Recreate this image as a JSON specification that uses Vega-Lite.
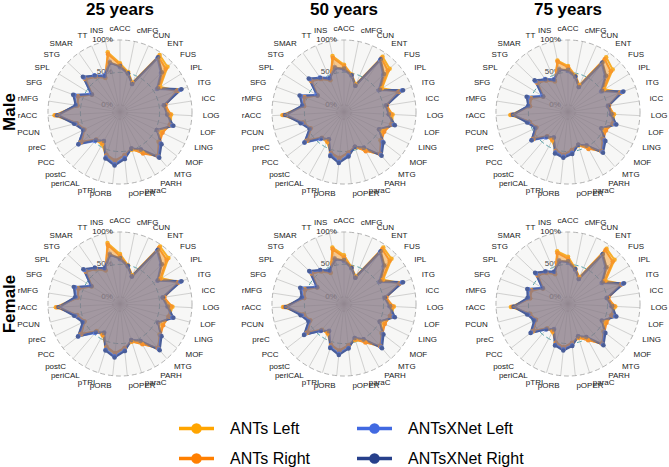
{
"$schema": "https://vega.github.io/schema/vega-lite/v6.json",
"padding": {"left": 0, "top": 1, "right": 0, "bottom": 0},
"background": "white",
"bounds": "flush",
"data": {"values": [
{"sex":"Male","age":"25 years","i":0,"r":"cACC","AL":0.64,"AR":0.62,"XL":0.58,"XR":0.60},
{"sex":"Male","age":"25 years","i":1,"r":"cMFG","AL":0.52,"AR":0.50,"XL":0.49,"XR":0.50},
{"sex":"Male","age":"25 years","i":2,"r":"CUN","AL":0.38,"AR":0.37,"XL":0.36,"XR":0.36},
{"sex":"Male","age":"25 years","i":3,"r":"ENT","AL":0.96,"AR":0.93,"XL":0.90,"XR":0.92},
{"sex":"Male","age":"25 years","i":4,"r":"FUS","AL":0.90,"AR":0.86,"XL":0.76,"XR":0.78},
{"sex":"Male","age":"25 years","i":5,"r":"IPL","AL":0.62,"AR":0.60,"XL":0.56,"XR":0.58},
{"sex":"Male","age":"25 years","i":6,"r":"ITG","AL":0.84,"AR":0.82,"XL":0.88,"XR":0.90},
{"sex":"Male","age":"25 years","i":7,"r":"iCC","AL":0.58,"AR":0.60,"XL":0.57,"XR":0.58},
{"sex":"Male","age":"25 years","i":8,"r":"LOG","AL":0.68,"AR":0.66,"XL":0.62,"XR":0.62},
{"sex":"Male","age":"25 years","i":9,"r":"LOF","AL":0.70,"AR":0.68,"XL":0.72,"XR":0.74},
{"sex":"Male","age":"25 years","i":10,"r":"LING","AL":0.60,"AR":0.62,"XL":0.54,"XR":0.52},
{"sex":"Male","age":"25 years","i":11,"r":"MOF","AL":0.64,"AR":0.66,"XL":0.68,"XR":0.70},
{"sex":"Male","age":"25 years","i":12,"r":"MTG","AL":0.80,"AR":0.78,"XL":0.80,"XR":0.82},
{"sex":"Male","age":"25 years","i":13,"r":"PARH","AL":0.60,"AR":0.62,"XL":0.55,"XR":0.55},
{"sex":"Male","age":"25 years","i":14,"r":"paraC","AL":0.50,"AR":0.48,"XL":0.48,"XR":0.48},
{"sex":"Male","age":"25 years","i":15,"r":"pOPER","AL":0.56,"AR":0.56,"XL":0.60,"XR":0.62},
{"sex":"Male","age":"25 years","i":16,"r":"pORB","AL":0.66,"AR":0.64,"XL":0.70,"XR":0.72},
{"sex":"Male","age":"25 years","i":17,"r":"pTRI","AL":0.60,"AR":0.58,"XL":0.62,"XR":0.64},
{"sex":"Male","age":"25 years","i":18,"r":"periCAL","AL":0.46,"AR":0.44,"XL":0.40,"XR":0.40},
{"sex":"Male","age":"25 years","i":19,"r":"postC","AL":0.46,"AR":0.45,"XL":0.48,"XR":0.46},
{"sex":"Male","age":"25 years","i":20,"r":"PCC","AL":0.66,"AR":0.64,"XL":0.70,"XR":0.70},
{"sex":"Male","age":"25 years","i":21,"r":"preC","AL":0.52,"AR":0.50,"XL":0.52,"XR":0.52},
{"sex":"Male","age":"25 years","i":22,"r":"PCUN","AL":0.58,"AR":0.58,"XL":0.60,"XR":0.62},
{"sex":"Male","age":"25 years","i":23,"r":"rACC","AL":0.90,"AR":0.88,"XL":0.84,"XR":0.86},
{"sex":"Male","age":"25 years","i":24,"r":"rMFG","AL":0.56,"AR":0.55,"XL":0.58,"XR":0.58},
{"sex":"Male","age":"25 years","i":25,"r":"SFG","AL":0.58,"AR":0.58,"XL":0.64,"XR":0.66},
{"sex":"Male","age":"25 years","i":26,"r":"SPL","AL":0.40,"AR":0.40,"XL":0.42,"XR":0.40},
{"sex":"Male","age":"25 years","i":27,"r":"STG","AL":0.64,"AR":0.62,"XL":0.66,"XR":0.68},
{"sex":"Male","age":"25 years","i":28,"r":"SMAR","AL":0.55,"AR":0.55,"XL":0.58,"XR":0.57},
{"sex":"Male","age":"25 years","i":29,"r":"TT","AL":0.46,"AR":0.47,"XL":0.50,"XR":0.49},
{"sex":"Male","age":"25 years","i":30,"r":"INS","AL":0.83,"AR":0.80,"XL":0.68,"XR":0.66},
{"sex":"Male","age":"50 years","i":0,"r":"cACC","AL":0.62,"AR":0.60,"XL":0.54,"XR":0.56},
{"sex":"Male","age":"50 years","i":1,"r":"cMFG","AL":0.48,"AR":0.47,"XL":0.46,"XR":0.47},
{"sex":"Male","age":"50 years","i":2,"r":"CUN","AL":0.35,"AR":0.34,"XL":0.33,"XR":0.33},
{"sex":"Male","age":"50 years","i":3,"r":"ENT","AL":0.93,"AR":0.90,"XL":0.86,"XR":0.88},
{"sex":"Male","age":"50 years","i":4,"r":"FUS","AL":0.86,"AR":0.82,"XL":0.72,"XR":0.74},
{"sex":"Male","age":"50 years","i":5,"r":"IPL","AL":0.58,"AR":0.56,"XL":0.52,"XR":0.54},
{"sex":"Male","age":"50 years","i":6,"r":"ITG","AL":0.80,"AR":0.78,"XL":0.84,"XR":0.86},
{"sex":"Male","age":"50 years","i":7,"r":"iCC","AL":0.55,"AR":0.56,"XL":0.54,"XR":0.55},
{"sex":"Male","age":"50 years","i":8,"r":"LOG","AL":0.64,"AR":0.62,"XL":0.58,"XR":0.58},
{"sex":"Male","age":"50 years","i":9,"r":"LOF","AL":0.66,"AR":0.64,"XL":0.68,"XR":0.70},
{"sex":"Male","age":"50 years","i":10,"r":"LING","AL":0.56,"AR":0.58,"XL":0.50,"XR":0.49},
{"sex":"Male","age":"50 years","i":11,"r":"MOF","AL":0.60,"AR":0.62,"XL":0.64,"XR":0.66},
{"sex":"Male","age":"50 years","i":12,"r":"MTG","AL":0.76,"AR":0.74,"XL":0.76,"XR":0.78},
{"sex":"Male","age":"50 years","i":13,"r":"PARH","AL":0.56,"AR":0.58,"XL":0.52,"XR":0.52},
{"sex":"Male","age":"50 years","i":14,"r":"paraC","AL":0.46,"AR":0.45,"XL":0.45,"XR":0.45},
{"sex":"Male","age":"50 years","i":15,"r":"pOPER","AL":0.52,"AR":0.52,"XL":0.56,"XR":0.58},
{"sex":"Male","age":"50 years","i":16,"r":"pORB","AL":0.62,"AR":0.60,"XL":0.66,"XR":0.68},
{"sex":"Male","age":"50 years","i":17,"r":"pTRI","AL":0.56,"AR":0.55,"XL":0.58,"XR":0.60},
{"sex":"Male","age":"50 years","i":18,"r":"periCAL","AL":0.42,"AR":0.41,"XL":0.37,"XR":0.37},
{"sex":"Male","age":"50 years","i":19,"r":"postC","AL":0.42,"AR":0.41,"XL":0.44,"XR":0.42},
{"sex":"Male","age":"50 years","i":20,"r":"PCC","AL":0.62,"AR":0.60,"XL":0.66,"XR":0.66},
{"sex":"Male","age":"50 years","i":21,"r":"preC","AL":0.48,"AR":0.46,"XL":0.48,"XR":0.48},
{"sex":"Male","age":"50 years","i":22,"r":"PCUN","AL":0.54,"AR":0.54,"XL":0.56,"XR":0.58},
{"sex":"Male","age":"50 years","i":23,"r":"rACC","AL":0.84,"AR":0.82,"XL":0.78,"XR":0.80},
{"sex":"Male","age":"50 years","i":24,"r":"rMFG","AL":0.52,"AR":0.51,"XL":0.54,"XR":0.54},
{"sex":"Male","age":"50 years","i":25,"r":"SFG","AL":0.54,"AR":0.54,"XL":0.60,"XR":0.62},
{"sex":"Male","age":"50 years","i":26,"r":"SPL","AL":0.37,"AR":0.37,"XL":0.39,"XR":0.37},
{"sex":"Male","age":"50 years","i":27,"r":"STG","AL":0.60,"AR":0.58,"XL":0.62,"XR":0.64},
{"sex":"Male","age":"50 years","i":28,"r":"SMAR","AL":0.51,"AR":0.51,"XL":0.54,"XR":0.53},
{"sex":"Male","age":"50 years","i":29,"r":"TT","AL":0.42,"AR":0.43,"XL":0.46,"XR":0.45},
{"sex":"Male","age":"50 years","i":30,"r":"INS","AL":0.77,"AR":0.74,"XL":0.60,"XR":0.58},
{"sex":"Male","age":"75 years","i":0,"r":"cACC","AL":0.60,"AR":0.58,"XL":0.52,"XR":0.54},
{"sex":"Male","age":"75 years","i":1,"r":"cMFG","AL":0.46,"AR":0.45,"XL":0.44,"XR":0.45},
{"sex":"Male","age":"75 years","i":2,"r":"CUN","AL":0.34,"AR":0.33,"XL":0.31,"XR":0.31},
{"sex":"Male","age":"75 years","i":3,"r":"ENT","AL":0.92,"AR":0.88,"XL":0.80,"XR":0.82},
{"sex":"Male","age":"75 years","i":4,"r":"FUS","AL":0.84,"AR":0.80,"XL":0.68,"XR":0.70},
{"sex":"Male","age":"75 years","i":5,"r":"IPL","AL":0.55,"AR":0.53,"XL":0.49,"XR":0.51},
{"sex":"Male","age":"75 years","i":6,"r":"ITG","AL":0.76,"AR":0.74,"XL":0.78,"XR":0.80},
{"sex":"Male","age":"75 years","i":7,"r":"iCC","AL":0.52,"AR":0.53,"XL":0.51,"XR":0.52},
{"sex":"Male","age":"75 years","i":8,"r":"LOG","AL":0.60,"AR":0.58,"XL":0.55,"XR":0.56},
{"sex":"Male","age":"75 years","i":9,"r":"LOF","AL":0.62,"AR":0.60,"XL":0.64,"XR":0.66},
{"sex":"Male","age":"75 years","i":10,"r":"LING","AL":0.52,"AR":0.54,"XL":0.47,"XR":0.46},
{"sex":"Male","age":"75 years","i":11,"r":"MOF","AL":0.56,"AR":0.58,"XL":0.60,"XR":0.62},
{"sex":"Male","age":"75 years","i":12,"r":"MTG","AL":0.70,"AR":0.68,"XL":0.70,"XR":0.72},
{"sex":"Male","age":"75 years","i":13,"r":"PARH","AL":0.52,"AR":0.54,"XL":0.48,"XR":0.48},
{"sex":"Male","age":"75 years","i":14,"r":"paraC","AL":0.43,"AR":0.42,"XL":0.42,"XR":0.42},
{"sex":"Male","age":"75 years","i":15,"r":"pOPER","AL":0.48,"AR":0.48,"XL":0.52,"XR":0.54},
{"sex":"Male","age":"75 years","i":16,"r":"pORB","AL":0.56,"AR":0.55,"XL":0.58,"XR":0.60},
{"sex":"Male","age":"75 years","i":17,"r":"pTRI","AL":0.52,"AR":0.51,"XL":0.54,"XR":0.56},
{"sex":"Male","age":"75 years","i":18,"r":"periCAL","AL":0.39,"AR":0.38,"XL":0.34,"XR":0.34},
{"sex":"Male","age":"75 years","i":19,"r":"postC","AL":0.39,"AR":0.38,"XL":0.41,"XR":0.39},
{"sex":"Male","age":"75 years","i":20,"r":"PCC","AL":0.58,"AR":0.56,"XL":0.60,"XR":0.60},
{"sex":"Male","age":"75 years","i":21,"r":"preC","AL":0.45,"AR":0.43,"XL":0.45,"XR":0.45},
{"sex":"Male","age":"75 years","i":22,"r":"PCUN","AL":0.50,"AR":0.50,"XL":0.52,"XR":0.54},
{"sex":"Male","age":"75 years","i":23,"r":"rACC","AL":0.78,"AR":0.76,"XL":0.73,"XR":0.74},
{"sex":"Male","age":"75 years","i":24,"r":"rMFG","AL":0.49,"AR":0.48,"XL":0.51,"XR":0.51},
{"sex":"Male","age":"75 years","i":25,"r":"SFG","AL":0.50,"AR":0.50,"XL":0.55,"XR":0.57},
{"sex":"Male","age":"75 years","i":26,"r":"SPL","AL":0.34,"AR":0.34,"XL":0.36,"XR":0.34},
{"sex":"Male","age":"75 years","i":27,"r":"STG","AL":0.56,"AR":0.54,"XL":0.58,"XR":0.60},
{"sex":"Male","age":"75 years","i":28,"r":"SMAR","AL":0.48,"AR":0.48,"XL":0.51,"XR":0.50},
{"sex":"Male","age":"75 years","i":29,"r":"TT","AL":0.40,"AR":0.41,"XL":0.44,"XR":0.43},
{"sex":"Male","age":"75 years","i":30,"r":"INS","AL":0.70,"AR":0.68,"XL":0.57,"XR":0.55},
{"sex":"Female","age":"25 years","i":0,"r":"cACC","AL":0.66,"AR":0.63,"XL":0.58,"XR":0.60},
{"sex":"Female","age":"25 years","i":1,"r":"cMFG","AL":0.50,"AR":0.49,"XL":0.48,"XR":0.49},
{"sex":"Female","age":"25 years","i":2,"r":"CUN","AL":0.37,"AR":0.36,"XL":0.35,"XR":0.35},
{"sex":"Female","age":"25 years","i":3,"r":"ENT","AL":0.97,"AR":0.94,"XL":0.89,"XR":0.91},
{"sex":"Female","age":"25 years","i":4,"r":"FUS","AL":0.92,"AR":0.88,"XL":0.76,"XR":0.78},
{"sex":"Female","age":"25 years","i":5,"r":"IPL","AL":0.64,"AR":0.62,"XL":0.57,"XR":0.58},
{"sex":"Female","age":"25 years","i":6,"r":"ITG","AL":0.86,"AR":0.84,"XL":0.88,"XR":0.90},
{"sex":"Female","age":"25 years","i":7,"r":"iCC","AL":0.56,"AR":0.58,"XL":0.55,"XR":0.56},
{"sex":"Female","age":"25 years","i":8,"r":"LOG","AL":0.70,"AR":0.68,"XL":0.62,"XR":0.63},
{"sex":"Female","age":"25 years","i":9,"r":"LOF","AL":0.68,"AR":0.66,"XL":0.72,"XR":0.74},
{"sex":"Female","age":"25 years","i":10,"r":"LING","AL":0.62,"AR":0.63,"XL":0.55,"XR":0.54},
{"sex":"Female","age":"25 years","i":11,"r":"MOF","AL":0.66,"AR":0.68,"XL":0.68,"XR":0.70},
{"sex":"Female","age":"25 years","i":12,"r":"MTG","AL":0.80,"AR":0.78,"XL":0.81,"XR":0.83},
{"sex":"Female","age":"25 years","i":13,"r":"PARH","AL":0.58,"AR":0.60,"XL":0.54,"XR":0.54},
{"sex":"Female","age":"25 years","i":14,"r":"paraC","AL":0.50,"AR":0.49,"XL":0.47,"XR":0.47},
{"sex":"Female","age":"25 years","i":15,"r":"pOPER","AL":0.58,"AR":0.57,"XL":0.61,"XR":0.62},
{"sex":"Female","age":"25 years","i":16,"r":"pORB","AL":0.66,"AR":0.65,"XL":0.70,"XR":0.72},
{"sex":"Female","age":"25 years","i":17,"r":"pTRI","AL":0.60,"AR":0.58,"XL":0.63,"XR":0.64},
{"sex":"Female","age":"25 years","i":18,"r":"periCAL","AL":0.44,"AR":0.43,"XL":0.39,"XR":0.40},
{"sex":"Female","age":"25 years","i":19,"r":"postC","AL":0.44,"AR":0.45,"XL":0.48,"XR":0.46},
{"sex":"Female","age":"25 years","i":20,"r":"PCC","AL":0.66,"AR":0.64,"XL":0.70,"XR":0.71},
{"sex":"Female","age":"25 years","i":21,"r":"preC","AL":0.50,"AR":0.50,"XL":0.52,"XR":0.53},
{"sex":"Female","age":"25 years","i":22,"r":"PCUN","AL":0.57,"AR":0.58,"XL":0.60,"XR":0.62},
{"sex":"Female","age":"25 years","i":23,"r":"rACC","AL":0.88,"AR":0.86,"XL":0.82,"XR":0.84},
{"sex":"Female","age":"25 years","i":24,"r":"rMFG","AL":0.55,"AR":0.55,"XL":0.58,"XR":0.59},
{"sex":"Female","age":"25 years","i":25,"r":"SFG","AL":0.58,"AR":0.57,"XL":0.63,"XR":0.65},
{"sex":"Female","age":"25 years","i":26,"r":"SPL","AL":0.40,"AR":0.41,"XL":0.42,"XR":0.41},
{"sex":"Female","age":"25 years","i":27,"r":"STG","AL":0.62,"AR":0.61,"XL":0.65,"XR":0.67},
{"sex":"Female","age":"25 years","i":28,"r":"SMAR","AL":0.54,"AR":0.55,"XL":0.57,"XR":0.57},
{"sex":"Female","age":"25 years","i":29,"r":"TT","AL":0.45,"AR":0.46,"XL":0.49,"XR":0.49},
{"sex":"Female","age":"25 years","i":30,"r":"INS","AL":0.85,"AR":0.82,"XL":0.68,"XR":0.66},
{"sex":"Female","age":"50 years","i":0,"r":"cACC","AL":0.64,"AR":0.61,"XL":0.55,"XR":0.57},
{"sex":"Female","age":"50 years","i":1,"r":"cMFG","AL":0.47,"AR":0.46,"XL":0.45,"XR":0.46},
{"sex":"Female","age":"50 years","i":2,"r":"CUN","AL":0.35,"AR":0.34,"XL":0.33,"XR":0.33},
{"sex":"Female","age":"50 years","i":3,"r":"ENT","AL":0.95,"AR":0.92,"XL":0.86,"XR":0.88},
{"sex":"Female","age":"50 years","i":4,"r":"FUS","AL":0.90,"AR":0.86,"XL":0.73,"XR":0.75},
{"sex":"Female","age":"50 years","i":5,"r":"IPL","AL":0.60,"AR":0.58,"XL":0.53,"XR":0.55},
{"sex":"Female","age":"50 years","i":6,"r":"ITG","AL":0.82,"AR":0.80,"XL":0.84,"XR":0.86},
{"sex":"Female","age":"50 years","i":7,"r":"iCC","AL":0.53,"AR":0.55,"XL":0.52,"XR":0.53},
{"sex":"Female","age":"50 years","i":8,"r":"LOG","AL":0.66,"AR":0.64,"XL":0.59,"XR":0.60},
{"sex":"Female","age":"50 years","i":9,"r":"LOF","AL":0.64,"AR":0.62,"XL":0.68,"XR":0.70},
{"sex":"Female","age":"50 years","i":10,"r":"LING","AL":0.58,"AR":0.59,"XL":0.51,"XR":0.50},
{"sex":"Female","age":"50 years","i":11,"r":"MOF","AL":0.62,"AR":0.64,"XL":0.64,"XR":0.66},
{"sex":"Female","age":"50 years","i":12,"r":"MTG","AL":0.76,"AR":0.74,"XL":0.77,"XR":0.79},
{"sex":"Female","age":"50 years","i":13,"r":"PARH","AL":0.55,"AR":0.57,"XL":0.51,"XR":0.51},
{"sex":"Female","age":"50 years","i":14,"r":"paraC","AL":0.47,"AR":0.46,"XL":0.44,"XR":0.44},
{"sex":"Female","age":"50 years","i":15,"r":"pOPER","AL":0.54,"AR":0.53,"XL":0.57,"XR":0.58},
{"sex":"Female","age":"50 years","i":16,"r":"pORB","AL":0.62,"AR":0.61,"XL":0.66,"XR":0.68},
{"sex":"Female","age":"50 years","i":17,"r":"pTRI","AL":0.56,"AR":0.55,"XL":0.59,"XR":0.60},
{"sex":"Female","age":"50 years","i":18,"r":"periCAL","AL":0.41,"AR":0.40,"XL":0.36,"XR":0.37},
{"sex":"Female","age":"50 years","i":19,"r":"postC","AL":0.41,"AR":0.42,"XL":0.44,"XR":0.43},
{"sex":"Female","age":"50 years","i":20,"r":"PCC","AL":0.62,"AR":0.60,"XL":0.66,"XR":0.67},
{"sex":"Female","age":"50 years","i":21,"r":"preC","AL":0.47,"AR":0.47,"XL":0.49,"XR":0.50},
{"sex":"Female","age":"50 years","i":22,"r":"PCUN","AL":0.53,"AR":0.54,"XL":0.56,"XR":0.58},
{"sex":"Female","age":"50 years","i":23,"r":"rACC","AL":0.83,"AR":0.81,"XL":0.77,"XR":0.79},
{"sex":"Female","age":"50 years","i":24,"r":"rMFG","AL":0.51,"AR":0.51,"XL":0.54,"XR":0.55},
{"sex":"Female","age":"50 years","i":25,"r":"SFG","AL":0.54,"AR":0.53,"XL":0.59,"XR":0.61},
{"sex":"Female","age":"50 years","i":26,"r":"SPL","AL":0.37,"AR":0.38,"XL":0.39,"XR":0.38},
{"sex":"Female","age":"50 years","i":27,"r":"STG","AL":0.58,"AR":0.57,"XL":0.61,"XR":0.63},
{"sex":"Female","age":"50 years","i":28,"r":"SMAR","AL":0.50,"AR":0.51,"XL":0.53,"XR":0.53},
{"sex":"Female","age":"50 years","i":29,"r":"TT","AL":0.41,"AR":0.42,"XL":0.45,"XR":0.45},
{"sex":"Female","age":"50 years","i":30,"r":"INS","AL":0.78,"AR":0.75,"XL":0.61,"XR":0.59},
{"sex":"Female","age":"75 years","i":0,"r":"cACC","AL":0.62,"AR":0.59,"XL":0.53,"XR":0.55},
{"sex":"Female","age":"75 years","i":1,"r":"cMFG","AL":0.45,"AR":0.44,"XL":0.43,"XR":0.44},
{"sex":"Female","age":"75 years","i":2,"r":"CUN","AL":0.34,"AR":0.33,"XL":0.31,"XR":0.31},
{"sex":"Female","age":"75 years","i":3,"r":"ENT","AL":0.93,"AR":0.90,"XL":0.81,"XR":0.83},
{"sex":"Female","age":"75 years","i":4,"r":"FUS","AL":0.88,"AR":0.84,"XL":0.69,"XR":0.71},
{"sex":"Female","age":"75 years","i":5,"r":"IPL","AL":0.57,"AR":0.55,"XL":0.50,"XR":0.52},
{"sex":"Female","age":"75 years","i":6,"r":"ITG","AL":0.78,"AR":0.76,"XL":0.79,"XR":0.81},
{"sex":"Female","age":"75 years","i":7,"r":"iCC","AL":0.50,"AR":0.52,"XL":0.49,"XR":0.50},
{"sex":"Female","age":"75 years","i":8,"r":"LOG","AL":0.62,"AR":0.60,"XL":0.56,"XR":0.57},
{"sex":"Female","age":"75 years","i":9,"r":"LOF","AL":0.60,"AR":0.58,"XL":0.64,"XR":0.66},
{"sex":"Female","age":"75 years","i":10,"r":"LING","AL":0.54,"AR":0.55,"XL":0.48,"XR":0.47},
{"sex":"Female","age":"75 years","i":11,"r":"MOF","AL":0.58,"AR":0.60,"XL":0.60,"XR":0.62},
{"sex":"Female","age":"75 years","i":12,"r":"MTG","AL":0.71,"AR":0.69,"XL":0.71,"XR":0.73},
{"sex":"Female","age":"75 years","i":13,"r":"PARH","AL":0.51,"AR":0.53,"XL":0.47,"XR":0.47},
{"sex":"Female","age":"75 years","i":14,"r":"paraC","AL":0.44,"AR":0.43,"XL":0.41,"XR":0.41},
{"sex":"Female","age":"75 years","i":15,"r":"pOPER","AL":0.50,"AR":0.49,"XL":0.53,"XR":0.54},
{"sex":"Female","age":"75 years","i":16,"r":"pORB","AL":0.57,"AR":0.56,"XL":0.59,"XR":0.61},
{"sex":"Female","age":"75 years","i":17,"r":"pTRI","AL":0.52,"AR":0.51,"XL":0.55,"XR":0.56},
{"sex":"Female","age":"75 years","i":18,"r":"periCAL","AL":0.38,"AR":0.37,"XL":0.33,"XR":0.34},
{"sex":"Female","age":"75 years","i":19,"r":"postC","AL":0.38,"AR":0.39,"XL":0.41,"XR":0.40},
{"sex":"Female","age":"75 years","i":20,"r":"PCC","AL":0.58,"AR":0.56,"XL":0.61,"XR":0.62},
{"sex":"Female","age":"75 years","i":21,"r":"preC","AL":0.44,"AR":0.44,"XL":0.46,"XR":0.47},
{"sex":"Female","age":"75 years","i":22,"r":"PCUN","AL":0.49,"AR":0.50,"XL":0.52,"XR":0.54},
{"sex":"Female","age":"75 years","i":23,"r":"rACC","AL":0.77,"AR":0.75,"XL":0.72,"XR":0.73},
{"sex":"Female","age":"75 years","i":24,"r":"rMFG","AL":0.48,"AR":0.48,"XL":0.51,"XR":0.52},
{"sex":"Female","age":"75 years","i":25,"r":"SFG","AL":0.50,"AR":0.49,"XL":0.54,"XR":0.56},
{"sex":"Female","age":"75 years","i":26,"r":"SPL","AL":0.34,"AR":0.35,"XL":0.36,"XR":0.35},
{"sex":"Female","age":"75 years","i":27,"r":"STG","AL":0.54,"AR":0.53,"XL":0.57,"XR":0.59},
{"sex":"Female","age":"75 years","i":28,"r":"SMAR","AL":0.47,"AR":0.48,"XL":0.50,"XR":0.50},
{"sex":"Female","age":"75 years","i":29,"r":"TT","AL":0.39,"AR":0.40,"XL":0.43,"XR":0.43},
{"sex":"Female","age":"75 years","i":30,"r":"INS","AL":0.72,"AR":0.69,"XL":0.58,"XR":0.56}
]},
"transform": [
{"fold": ["AL","AR","XL","XR"], "as": ["key","v"]},
{"calculate": "datum.i*2*PI/31", "as": "a"},
{"calculate": "0.1+0.9*datum.v", "as": "rr"},
{"calculate": "datum.rr*sin(datum.a)", "as": "px"},
{"calculate": "datum.rr*cos(datum.a)", "as": "py"},
{"calculate": "sin(datum.a)", "as": "sx"},
{"calculate": "cos(datum.a)", "as": "sy"},
{"calculate": "0", "as": "z"},
{"calculate": "1.15*sin(datum.a)", "as": "lx"},
{"calculate": "1.15*cos(datum.a)", "as": "ly"}
],
"facet": {
"row": {"field": "sex", "type": "nominal", "sort": ["Male","Female"], "title": null, "header": {"labelFontSize": 17, "labelFontWeight": "bold", "labelColor": "black", "labelPadding": 1, "labelFont": "Liberation Sans"}},
"column": {"field": "age", "type": "nominal", "sort": ["25 years","50 years","75 years"], "title": null, "header": {"labelFontSize": 17, "labelFontWeight": "bold", "labelColor": "black", "labelPadding": 3, "labelFont": "Liberation Sans"}}
},
"spacing": {"row": 12, "column": 24},
"spec": {
"width": 200,
"height": 180,
"layer": [
{"transform": [{"filter": "datum.i==0 && datum.key=='AL'"}],
 "mark": {"type": "point", "shape": "circle", "size": 20736, "filled": false, "stroke": "#9a9a9a", "strokeWidth": 0.8, "strokeDash": [5,3], "opacity": 1},
 "encoding": {"x": {"field": "z", "type": "quantitative", "scale": {"domain": [-1.3889,1.3889], "nice": false, "zero": false}, "axis": null},
              "y": {"field": "z", "type": "quantitative", "scale": {"domain": [-1.25,1.25], "nice": false, "zero": false}, "axis": null}}},
{"transform": [{"filter": "datum.i==0 && datum.key=='AL'"}],
 "mark": {"type": "point", "shape": "circle", "size": 6273, "filled": false, "stroke": "#007A87", "strokeWidth": 0.8, "strokeDash": [5,3], "opacity": 1},
 "encoding": {"x": {"field": "z", "type": "quantitative", "scale": {"domain": [-1.3889,1.3889], "nice": false, "zero": false}, "axis": null},
              "y": {"field": "z", "type": "quantitative", "scale": {"domain": [-1.25,1.25], "nice": false, "zero": false}, "axis": null}}},
{"transform": [{"filter": "datum.i==0 && datum.key=='AL'"}],
 "mark": {"type": "point", "shape": "circle", "size": 207, "filled": false, "stroke": "#9a9a9a", "strokeWidth": 0.8, "strokeDash": [3,2], "opacity": 1},
 "encoding": {"x": {"field": "z", "type": "quantitative", "scale": {"domain": [-1.3889,1.3889], "nice": false, "zero": false}, "axis": null},
              "y": {"field": "z", "type": "quantitative", "scale": {"domain": [-1.25,1.25], "nice": false, "zero": false}, "axis": null}}},
{"transform": [{"filter": "datum.key=='AL' && datum.lx > 0.02"}],
 "mark": {"type": "text", "align": "left", "baseline": "middle", "fontSize": 8, "font": "Liberation Sans", "color": "#222222"},
 "encoding": {"x": {"field": "lx", "type": "quantitative", "scale": {"domain": [-1.3889,1.3889], "nice": false, "zero": false}, "axis": null},
              "y": {"field": "ly", "type": "quantitative", "scale": {"domain": [-1.25,1.25], "nice": false, "zero": false}, "axis": null},
              "text": {"field": "r", "type": "nominal"}}},
{"transform": [{"filter": "datum.key=='AL' && datum.lx < -0.02"}],
 "mark": {"type": "text", "align": "right", "baseline": "middle", "fontSize": 8, "font": "Liberation Sans", "color": "#222222"},
 "encoding": {"x": {"field": "lx", "type": "quantitative", "scale": {"domain": [-1.3889,1.3889], "nice": false, "zero": false}, "axis": null},
              "y": {"field": "ly", "type": "quantitative", "scale": {"domain": [-1.25,1.25], "nice": false, "zero": false}, "axis": null},
              "text": {"field": "r", "type": "nominal"}}},
{"transform": [{"filter": "datum.key=='AL' && abs(datum.lx) <= 0.02"}],
 "mark": {"type": "text", "align": "center", "baseline": "middle", "fontSize": 8, "font": "Liberation Sans", "color": "#222222"},
 "encoding": {"x": {"field": "lx", "type": "quantitative", "scale": {"domain": [-1.3889,1.3889], "nice": false, "zero": false}, "axis": null},
              "y": {"field": "ly", "type": "quantitative", "scale": {"domain": [-1.25,1.25], "nice": false, "zero": false}, "axis": null},
              "text": {"field": "r", "type": "nominal"}}},
{"transform": [{"filter": "datum.i==0 && datum.key=='AL'"}, {"calculate": "-0.1", "as": "gx"}, {"calculate": "1", "as": "gy"}],
 "mark": {"type": "text", "align": "right", "baseline": "middle", "fontSize": 8, "font": "Liberation Sans", "color": "#222222", "text": "100%"},
 "encoding": {"x": {"field": "gx", "type": "quantitative", "scale": {"domain": [-1.3889,1.3889], "nice": false, "zero": false}, "axis": null},
              "y": {"field": "gy", "type": "quantitative", "scale": {"domain": [-1.25,1.25], "nice": false, "zero": false}, "axis": null}}},
{"transform": [{"filter": "datum.i==0 && datum.key=='AL'"}, {"calculate": "-0.1", "as": "gx"}, {"calculate": "0.55", "as": "gy"}],
 "mark": {"type": "text", "align": "right", "baseline": "middle", "fontSize": 8, "font": "Liberation Sans", "color": "#222222", "text": "50%"},
 "encoding": {"x": {"field": "gx", "type": "quantitative", "scale": {"domain": [-1.3889,1.3889], "nice": false, "zero": false}, "axis": null},
              "y": {"field": "gy", "type": "quantitative", "scale": {"domain": [-1.25,1.25], "nice": false, "zero": false}, "axis": null}}},
{"transform": [{"filter": "datum.i==0 && datum.key=='AL'"}, {"calculate": "-0.1", "as": "gx"}, {"calculate": "0.1", "as": "gy"}],
 "mark": {"type": "text", "align": "right", "baseline": "middle", "fontSize": 8, "font": "Liberation Sans", "color": "#222222", "text": "0%"},
 "encoding": {"x": {"field": "gx", "type": "quantitative", "scale": {"domain": [-1.3889,1.3889], "nice": false, "zero": false}, "axis": null},
              "y": {"field": "gy", "type": "quantitative", "scale": {"domain": [-1.25,1.25], "nice": false, "zero": false}, "axis": null}}},
{"transform": [{"filter": "datum.key=='AL'"}],
 "mark": {"type": "rule", "color": "#a8a8a8", "strokeWidth": 0.7, "opacity": 0.8},
 "encoding": {"x": {"field": "z", "type": "quantitative", "scale": {"domain": [-1.3889,1.3889], "nice": false, "zero": false}, "axis": null},
              "y": {"field": "z", "type": "quantitative", "scale": {"domain": [-1.25,1.25], "nice": false, "zero": false}, "axis": null},
              "x2": {"field": "sx"}, "y2": {"field": "sy"}}},
{"mark": {"type": "line", "interpolate": "linear-closed", "strokeWidth": 2},
 "encoding": {"x": {"field": "px", "type": "quantitative", "scale": {"domain": [-1.3889,1.3889], "nice": false, "zero": false}, "axis": null},
              "y": {"field": "py", "type": "quantitative", "scale": {"domain": [-1.25,1.25], "nice": false, "zero": false}, "axis": null},
              "order": {"field": "i", "type": "quantitative"},
              "color": {"field": "key", "type": "nominal",
                        "scale": {"domain": ["AL","AR","XL","XR"], "range": ["#FFA500","#FF7F00","#4169E1","#27408B"]},
                        "legend": {"orient": "none", "legendX": 157, "legendY": 387, "columns": 2, "title": null,
                                   "labelFontSize": 16, "labelFont": "Liberation Sans", "labelColor": "black",
                                   "symbolType": "M-1,0L1,0M-0.2,0A0.2,0.2,0,1,1,0.2,0A0.2,0.2,0,1,1,-0.2,0",
                                   "symbolSize": 1225, "symbolStrokeWidth": 3.5, "labelOffset": 14, "columnPadding": 39, "rowPadding": -6,
                                   "labelExpr": "{'AL':'ANTs Left','AR':'ANTs Right','XL':'ANTsXNet Left','XR':'ANTsXNet Right'}[datum.label]"}}}},
{"mark": {"type": "point", "filled": true, "size": 20, "opacity": 1},
 "encoding": {"x": {"field": "px", "type": "quantitative", "scale": {"domain": [-1.3889,1.3889], "nice": false, "zero": false}, "axis": null},
              "y": {"field": "py", "type": "quantitative", "scale": {"domain": [-1.25,1.25], "nice": false, "zero": false}, "axis": null},
              "color": {"field": "key", "type": "nominal",
                        "scale": {"domain": ["AL","AR","XL","XR"], "range": ["#FFA500","#FF7F00","#4169E1","#27408B"]}}}},
{"mark": {"type": "line", "interpolate": "linear-closed", "fillOpacity": 0.3, "strokeWidth": 0},
 "encoding": {"x": {"field": "px", "type": "quantitative", "scale": {"domain": [-1.3889,1.3889], "nice": false, "zero": false}, "axis": null},
              "y": {"field": "py", "type": "quantitative", "scale": {"domain": [-1.25,1.25], "nice": false, "zero": false}, "axis": null},
              "order": {"field": "i", "type": "quantitative"},
              "fill": {"field": "key", "type": "nominal",
                       "scale": {"domain": ["AL","AR","XL","XR"], "range": ["#FFA500","#FF7F00","#4169E1","#27408B"]}, "legend": null}}},
{"transform": [{"filter": "datum.i==0 && datum.key=='AL'"}],
 "mark": {"type": "point", "shape": "circle", "size": 20736, "filled": true, "fill": "#D7D6D1", "opacity": 0.2, "strokeWidth": 0},
 "encoding": {"x": {"field": "z", "type": "quantitative", "scale": {"domain": [-1.3889,1.3889], "nice": false, "zero": false}, "axis": null},
              "y": {"field": "z", "type": "quantitative", "scale": {"domain": [-1.25,1.25], "nice": false, "zero": false}, "axis": null}}}
]
},
"config": {"view": {"stroke": null}}
}
